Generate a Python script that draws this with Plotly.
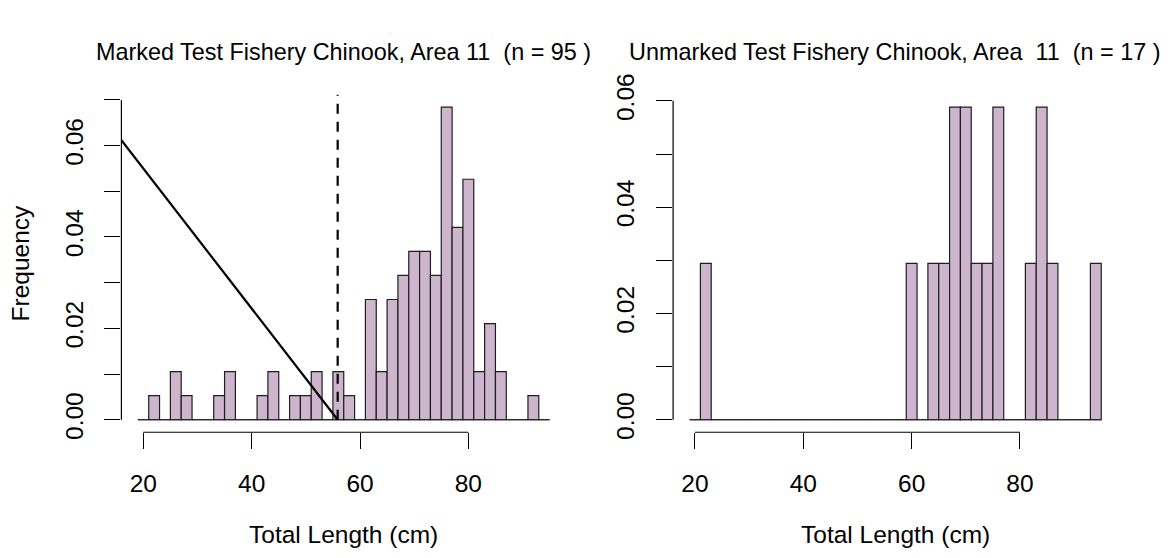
import numpy as np
import plotly.graph_objects as go

# Histogram bins (cm), 2 cm wide
bin_edges = list(range(19, 97, 2))

# Fish counts per 2 cm bin, starting at the 19-21 cm bin
marked_counts = [0, 1, 0, 2, 1, 0, 0, 1, 2, 0, 0, 1, 2, 0, 1, 1, 2, 0, 2, 1,
                 0, 5, 2, 5, 6, 7, 7, 6, 13, 8, 10, 2, 4, 2, 0, 0, 1, 0]
unmarked_counts = [0, 1, 0, 0, 0, 0, 0, 0, 0, 0, 0, 0, 0, 0, 0, 0, 0, 0, 0, 0,
                   1, 0, 1, 1, 2, 2, 1, 1, 2, 0, 0, 1, 2, 1, 0, 0, 0, 1]

# Minimum size limit (22 in) and the sloped reference line on the marked panel
size_limit = 55.88
guide_x = [15.96, 55.88]
guide_y = [0.0612, 0.0]

x_ticks = [20, 40, 60, 80]
marked_y_ticks = [0.00, 0.01, 0.02, 0.03, 0.04, 0.05, 0.06, 0.07]
unmarked_y_ticks = [0.00, 0.01, 0.02, 0.03, 0.04, 0.05, 0.06]

FONT = "Liberation Sans, Arial, Helvetica, sans-serif"
FILL = "#CDB5CD"
EDGE = "#1e1e1e"
W, H = 1176, 558

edges = np.array(bin_edges, dtype=float)
width = edges[1] - edges[0]
centers = (edges[:-1] + edges[1:]) / 2
span = edges[-1] - edges[0]
x_range = [edges[0] - 0.04 * span, edges[-1] + 0.04 * span]

fig = go.Figure()

panels = [
    ("x", "y", marked_counts, marked_y_ticks, "Marked Test Fishery Chinook, Area 11\u00a0 (n = {} )"),
    ("x2", "y2", unmarked_counts, unmarked_y_ticks, "Unmarked Test Fishery Chinook, Area\u00a0 11\u00a0 (n = {} )"),
]
x_domains = [[121.4 / W, 566.1 / W], [673.1 / W, 1117.7 / W]]
y_domain = [(H - 433.0) / H, (H - 77.5) / H]

layout = dict(
    width=W, height=H,
    margin=dict(l=0, r=0, t=0, b=0),
    paper_bgcolor="white", plot_bgcolor="white",
    showlegend=False,
    font=dict(family=FONT, color="black", size=24),
)
shapes = []
annotations = []
y_ranges = []

for i, (xa, ya, counts, yticks, title) in enumerate(panels):
    counts = np.array(counts, dtype=float)
    n = int(counts.sum())
    dens = counts / (n * width)
    ymax = dens.max()
    y_range = [-0.04 * ymax, 1.04 * ymax]
    y_ranges.append(y_range)

    # baseline under the empty bins
    fig.add_trace(go.Scatter(x=[edges[0], edges[-1]], y=[0, 0], mode="lines",
                             line=dict(color=EDGE, width=1.2), xaxis=xa, yaxis=ya,
                             hoverinfo="skip"))
    fig.add_trace(go.Bar(x=centers, y=dens, width=width, xaxis=xa, yaxis=ya,
                         marker=dict(color=FILL, line=dict(color=EDGE, width=1.2))))

    xkey = "xaxis" if i == 0 else "xaxis2"
    ykey = "yaxis" if i == 0 else "yaxis2"
    layout[xkey] = dict(domain=x_domains[i], range=x_range, anchor=ya,
                        tickvals=x_ticks, ticktext=[str(t) for t in x_ticks],
                        ticks="outside", ticklen=16, tickwidth=1.2, tickcolor="black",
                        showline=False, showgrid=False, zeroline=False,
                        tickfont=dict(family=FONT, size=24.5, color="black"),
                        ticklabelstandoff=13)
    layout[ykey] = dict(domain=y_domain, range=y_range, anchor=xa,
                        tickvals=yticks,
                        ticktext=[f"{t:.2f}" if k % 2 == 0 else "" for k, t in enumerate(yticks)],
                        ticks="outside", ticklen=16, tickwidth=1.2, tickcolor="black",
                        tickangle=-90,
                        showline=False, showgrid=False, zeroline=False,
                        tickfont=dict(family=FONT, size=24.5, color="black"),
                        ticklabelstandoff=12)

    # axis spines spanning first to last tick
    shapes.append(dict(type="line", xref=xa, yref=f"{ya} domain",
                       x0=x_ticks[0], x1=x_ticks[-1], y0=0, y1=0,
                       line=dict(color="black", width=1.2)))
    shapes.append(dict(type="line", xref=f"{xa} domain", yref=ya,
                       x0=0, x1=0, y0=yticks[0], y1=yticks[-1],
                       line=dict(color="black", width=1.2)))

    xc = sum(x_domains[i]) / 2
    annotations.append(dict(text=title.format(n), xref="paper", yref="paper",
                            x=xc, y=1 - 33 / H, xanchor="center", yanchor="middle",
                            showarrow=False, font=dict(family=FONT, size=23.4, color="black")))
    annotations.append(dict(text="Total Length (cm)", xref="paper", yref="paper",
                            x=xc, y=1 - 541 / H, xanchor="center", yanchor="middle",
                            showarrow=False, font=dict(family=FONT, size=24.5, color="black")))

annotations.append(dict(text="Frequency", xref="paper", yref="paper",
                        x=20 / W, y=sum(y_domain) / 2, xanchor="center", yanchor="middle",
                        textangle=-90, showarrow=False,
                        font=dict(family=FONT, size=24.5, color="black")))

# sloped reference line and the dashed size limit on the marked panel
fig.add_trace(go.Scatter(x=guide_x, y=guide_y, mode="lines", xaxis="x", yaxis="y",
                         line=dict(color="black", width=2.2), hoverinfo="skip"))
fig.add_trace(go.Scatter(x=[size_limit, size_limit], y=[0, y_ranges[0][1]], mode="lines",
                         xaxis="x", yaxis="y", hoverinfo="skip",
                         line=dict(color="black", width=2.2, dash="10px,8px")))

layout["shapes"] = shapes
layout["annotations"] = annotations
fig.update_layout(**layout)

fig.write_html("out.html")
